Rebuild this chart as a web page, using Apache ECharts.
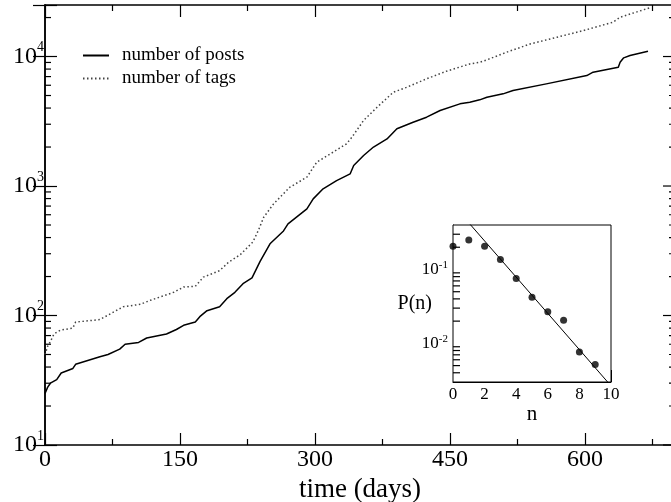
<!DOCTYPE html>
<html>
<head>
<meta charset="utf-8">
<script src="https://cdn.jsdelivr.net/npm/echarts@6/dist/echarts.min.js"></script>
<style>
  html, body { margin: 0; padding: 0; background: #fff; }
  #chart { width: 671px; height: 502px; }
</style>
</head>
<body>
<div id="chart"></div>
<script>
// main plot: cumulative counts vs time
const postsDays = [0, 3, 6, 13, 18, 31, 34, 61, 70, 83, 89, 104, 113, 135, 146, 154, 167, 172, 180, 194, 202, 211, 220, 230, 239, 250, 265, 270, 291, 298, 309, 324, 339, 343, 354, 365, 380, 391, 409, 424, 439, 461, 472, 483, 491, 509, 520, 557, 602, 609, 637, 639, 643, 650, 670];
const postsCount = [25, 28, 30, 32, 36, 39, 42, 48, 50, 55, 60, 62, 67, 72, 78, 84, 89, 98, 109, 117, 135, 151, 176, 195, 262, 358, 450, 510, 667, 796, 951, 1100, 1240, 1440, 1720, 2000, 2310, 2770, 3110, 3400, 3830, 4310, 4440, 4630, 4850, 5150, 5460, 6150, 7130, 7570, 8270, 9030, 9770, 10180, 11000];
const tagsDays = [0, 3, 6, 10, 17, 31, 34, 61, 87, 106, 117, 143, 154, 167, 176, 194, 204, 217, 231, 237, 243, 254, 272, 291, 302, 317, 335, 341, 354, 369, 387, 402, 424, 446, 472, 483, 491, 513, 539, 569, 598, 631, 639, 672];
const tagsCount = [50, 58, 63, 72, 77, 80, 89, 93, 117, 122, 131, 151, 166, 168, 198, 222, 258, 295, 370, 453, 574, 728, 979, 1170, 1530, 1770, 2120, 2380, 3210, 4060, 5300, 5790, 6730, 7700, 8770, 9030, 9430, 10800, 12500, 14100, 15850, 18400, 20100, 23800];

// inset: P(n)
const insetN = [0, 1, 2, 3, 4, 5, 6, 7, 8, 9];
const insetP = [0.206, 0.25, 0.206, 0.136, 0.0756, 0.042, 0.0267, 0.0206, 0.00766, 0.00517];
const fitN = [0, 10];
const fitP = [0.753, 0.00266];

// ticks
const xMinorTicks = [75, 225, 375, 525, 675];
const yMajorTicks = [10, 100, 1000, 10000];
const yMinorTicks = [];
yMajorTicks.forEach(d => { for (let k = 2; k <= 9; k++) if (d * k < 25000) yMinorTicks.push(d * k); });
const insetYMinorTicks = [];
[0.001, 0.01, 0.1].forEach(d => { for (let k = 2; k <= 9; k++) { const v = +(d * k).toPrecision(2); if (v > 0.003 && v < 0.4) insetYMinorTicks.push(v); } });

const FONT = 'Liberation Serif';

function powLabel(v) {
  const l = Math.log10(v);
  const e = Math.round(l);
  if (Math.abs(l - e) > 1e-6) return '';
  return '{b|10}{s|' + e + '}';
}

const chart = echarts.init(document.getElementById('chart'));

const tickLine = (x1, y1, x2, y2) => ({
  type: 'line', shape: { x1, y1, x2, y2 }, style: { stroke: '#000', lineWidth: 1.2 }
});

chart.setOption({
  animation: false,
  backgroundColor: '#fff',
  legend: {
    data: ['number of posts', 'number of tags'],
    orient: 'vertical',
    left: 77, top: 41,
    itemWidth: 26, itemHeight: 20, itemGap: 4,
    itemStyle: { opacity: 0 },
    textStyle: { fontFamily: FONT, fontSize: 19, color: '#000', padding: [0, 0, 0, 8] }
  },
  grid: [
    { left: 45, top: 5, width: 630, height: 440, outerBoundsMode: 'none', containLabel: false },
    { left: 453, top: 225, width: 158, height: 157, outerBoundsMode: 'none', containLabel: false,
      show: true, borderColor: '#000', borderWidth: 1, backgroundColor: '#fff', z: 10 }
  ],
  xAxis: [
    {
      type: 'value', gridIndex: 0, min: 0, max: 700, interval: 150, position: 'bottom',
      axisLine: { lineStyle: { color: '#000', width: 1.5 } },
      axisTick: { inside: true, length: 12, lineStyle: { color: '#000', width: 1.2 } },
      axisLabel: { color: '#000', fontFamily: FONT, fontSize: 24, margin: 3, formatter: v => (v % 150 === 0 ? String(v) : '') },
      splitLine: { show: false },
      name: 'time (days)', nameLocation: 'middle', nameGap: 29,
      nameTextStyle: { color: '#000', fontFamily: FONT, fontSize: 27 }
    },
    {
      type: 'value', gridIndex: 0, min: 0, max: 700, interval: 150, position: 'top',
      axisLine: { lineStyle: { color: '#000', width: 1.5 } },
      axisTick: { inside: true, length: 12, lineStyle: { color: '#000', width: 1.2 } },
      axisLabel: { show: false }, splitLine: { show: false }
    },
    {
      type: 'value', gridIndex: 1, min: 0, max: 10, interval: 2,
      axisLine: { lineStyle: { color: '#000', width: 1 } },
      axisTick: { inside: true, length: 12, lineStyle: { color: '#000', width: 1 } },
      minorTick: { show: true, splitNumber: 2, length: 6, lineStyle: { color: '#000', width: 1 } },
      axisLabel: { color: '#000', fontFamily: FONT, fontSize: 17, margin: 4 },
      splitLine: { show: false },
      name: 'n', nameLocation: 'middle', nameGap: 21,
      nameTextStyle: { color: '#000', fontFamily: FONT, fontSize: 21 }
    }
  ],
  yAxis: [
    {
      type: 'log', logBase: 10, gridIndex: 0, min: 10, max: 25000, position: 'left',
      axisLine: { lineStyle: { color: '#000', width: 1.5 } },
      axisTick: { inside: true, length: 12, lineStyle: { color: '#000', width: 1.2 } },
      axisLabel: {
        color: '#000', margin: 1, formatter: powLabel,
        rich: {
          b: { fontFamily: FONT, fontSize: 24, color: '#000' },
          s: { fontFamily: FONT, fontSize: 14, color: '#000', padding: [0, 0, 18, 0] }
        }
      },
      splitLine: { show: false }
    },
    {
      type: 'log', logBase: 10, gridIndex: 0, min: 10, max: 25000, position: 'right',
      axisLine: { lineStyle: { color: '#000', width: 1.5 } },
      axisTick: { inside: true, length: 12, lineStyle: { color: '#000', width: 1.2 } },
      axisLabel: { show: false }, splitLine: { show: false }
    },
    {
      type: 'log', logBase: 10, gridIndex: 1, min: 0.003, max: 0.4,
      axisLine: { lineStyle: { color: '#000', width: 1 } },
      axisTick: { inside: true, length: 12, lineStyle: { color: '#000', width: 1 } },
      axisLabel: {
        color: '#000', margin: 5, formatter: powLabel,
        rich: {
          b: { fontFamily: FONT, fontSize: 17, color: '#000' },
          s: { fontFamily: FONT, fontSize: 11, color: '#000', padding: [0, 0, 8, 0] }
        }
      },
      splitLine: { show: false },
      name: 'P(n)', nameLocation: 'middle', nameRotate: 0, nameGap: 21, nameMoveOverlap: false,
      nameTextStyle: { color: '#000', fontFamily: FONT, fontSize: 20 }
    }
  ],
  series: [
    {
      name: 'number of posts', type: 'line', xAxisIndex: 0, yAxisIndex: 0,
      data: postsDays.map((d, i) => [d, postsCount[i]]),
      showSymbol: false, symbol: 'none',
      lineStyle: { color: '#000', width: 1.5 }, itemStyle: { color: '#000' }
    },
    {
      name: 'number of tags', type: 'line', xAxisIndex: 0, yAxisIndex: 0,
      data: tagsDays.map((d, i) => [d, tagsCount[i]]),
      showSymbol: false, symbol: 'none',
      lineStyle: { color: '#444', width: 1.5, type: [1.5, 2.5] }, itemStyle: { color: '#444' }
    },
    {
      // minor ticks (2..9 per decade) on left and right edges
      type: 'custom', xAxisIndex: 0, yAxisIndex: 0, silent: true, z: 5,
      data: yMinorTicks.map(v => [0, v]),
      renderItem: (params, api) => {
        const cs = params.coordSys;
        const y = api.coord([0, api.value(1)])[1];
        return { type: 'group', children: [
          tickLine(cs.x, y, cs.x + 6, y),
          tickLine(cs.x + cs.width, y, cs.x + cs.width - 6, y)
        ] };
      }
    },
    {
      // major ticks on the right edge
      type: 'custom', xAxisIndex: 0, yAxisIndex: 0, silent: true, z: 5,
      data: yMajorTicks.map(v => [0, v]),
      renderItem: (params, api) => {
        const cs = params.coordSys;
        const y = api.coord([0, api.value(1)])[1];
        return tickLine(cs.x + cs.width, y, cs.x + cs.width - 12, y);
      }
    },
    {
      type: 'custom', xAxisIndex: 0, yAxisIndex: 0, silent: true, z: 5,
      data: xMinorTicks.map(v => [v, 10]),
      renderItem: (params, api) => {
        const cs = params.coordSys;
        const x = api.coord([api.value(0), 10])[0];
        return { type: 'group', children: [
          tickLine(x, cs.y + cs.height, x, cs.y + cs.height - 6),
          tickLine(x, cs.y, x, cs.y + 6)
        ] };
      }
    },
    {
      type: 'custom', xAxisIndex: 2, yAxisIndex: 2, silent: true, z: 12,
      data: insetYMinorTicks.map(v => [0, v]),
      renderItem: (params, api) => {
        const cs = params.coordSys;
        const y = api.coord([0, api.value(1)])[1];
        return tickLine(cs.x, y, cs.x + 7, y);
      }
    },
    {
      type: 'line', xAxisIndex: 2, yAxisIndex: 2, z: 12,
      data: fitN.map((n, i) => [n, fitP[i]]),
      showSymbol: false, symbol: 'none', clip: true,
      lineStyle: { color: '#000', width: 1 }
    },
    {
      type: 'scatter', xAxisIndex: 2, yAxisIndex: 2, z: 13,
      data: insetN.map((n, i) => [n, insetP[i]]),
      symbol: 'circle', symbolSize: 7, itemStyle: { color: '#000' }
    }
  ]
});
</script>
</body>
</html>
